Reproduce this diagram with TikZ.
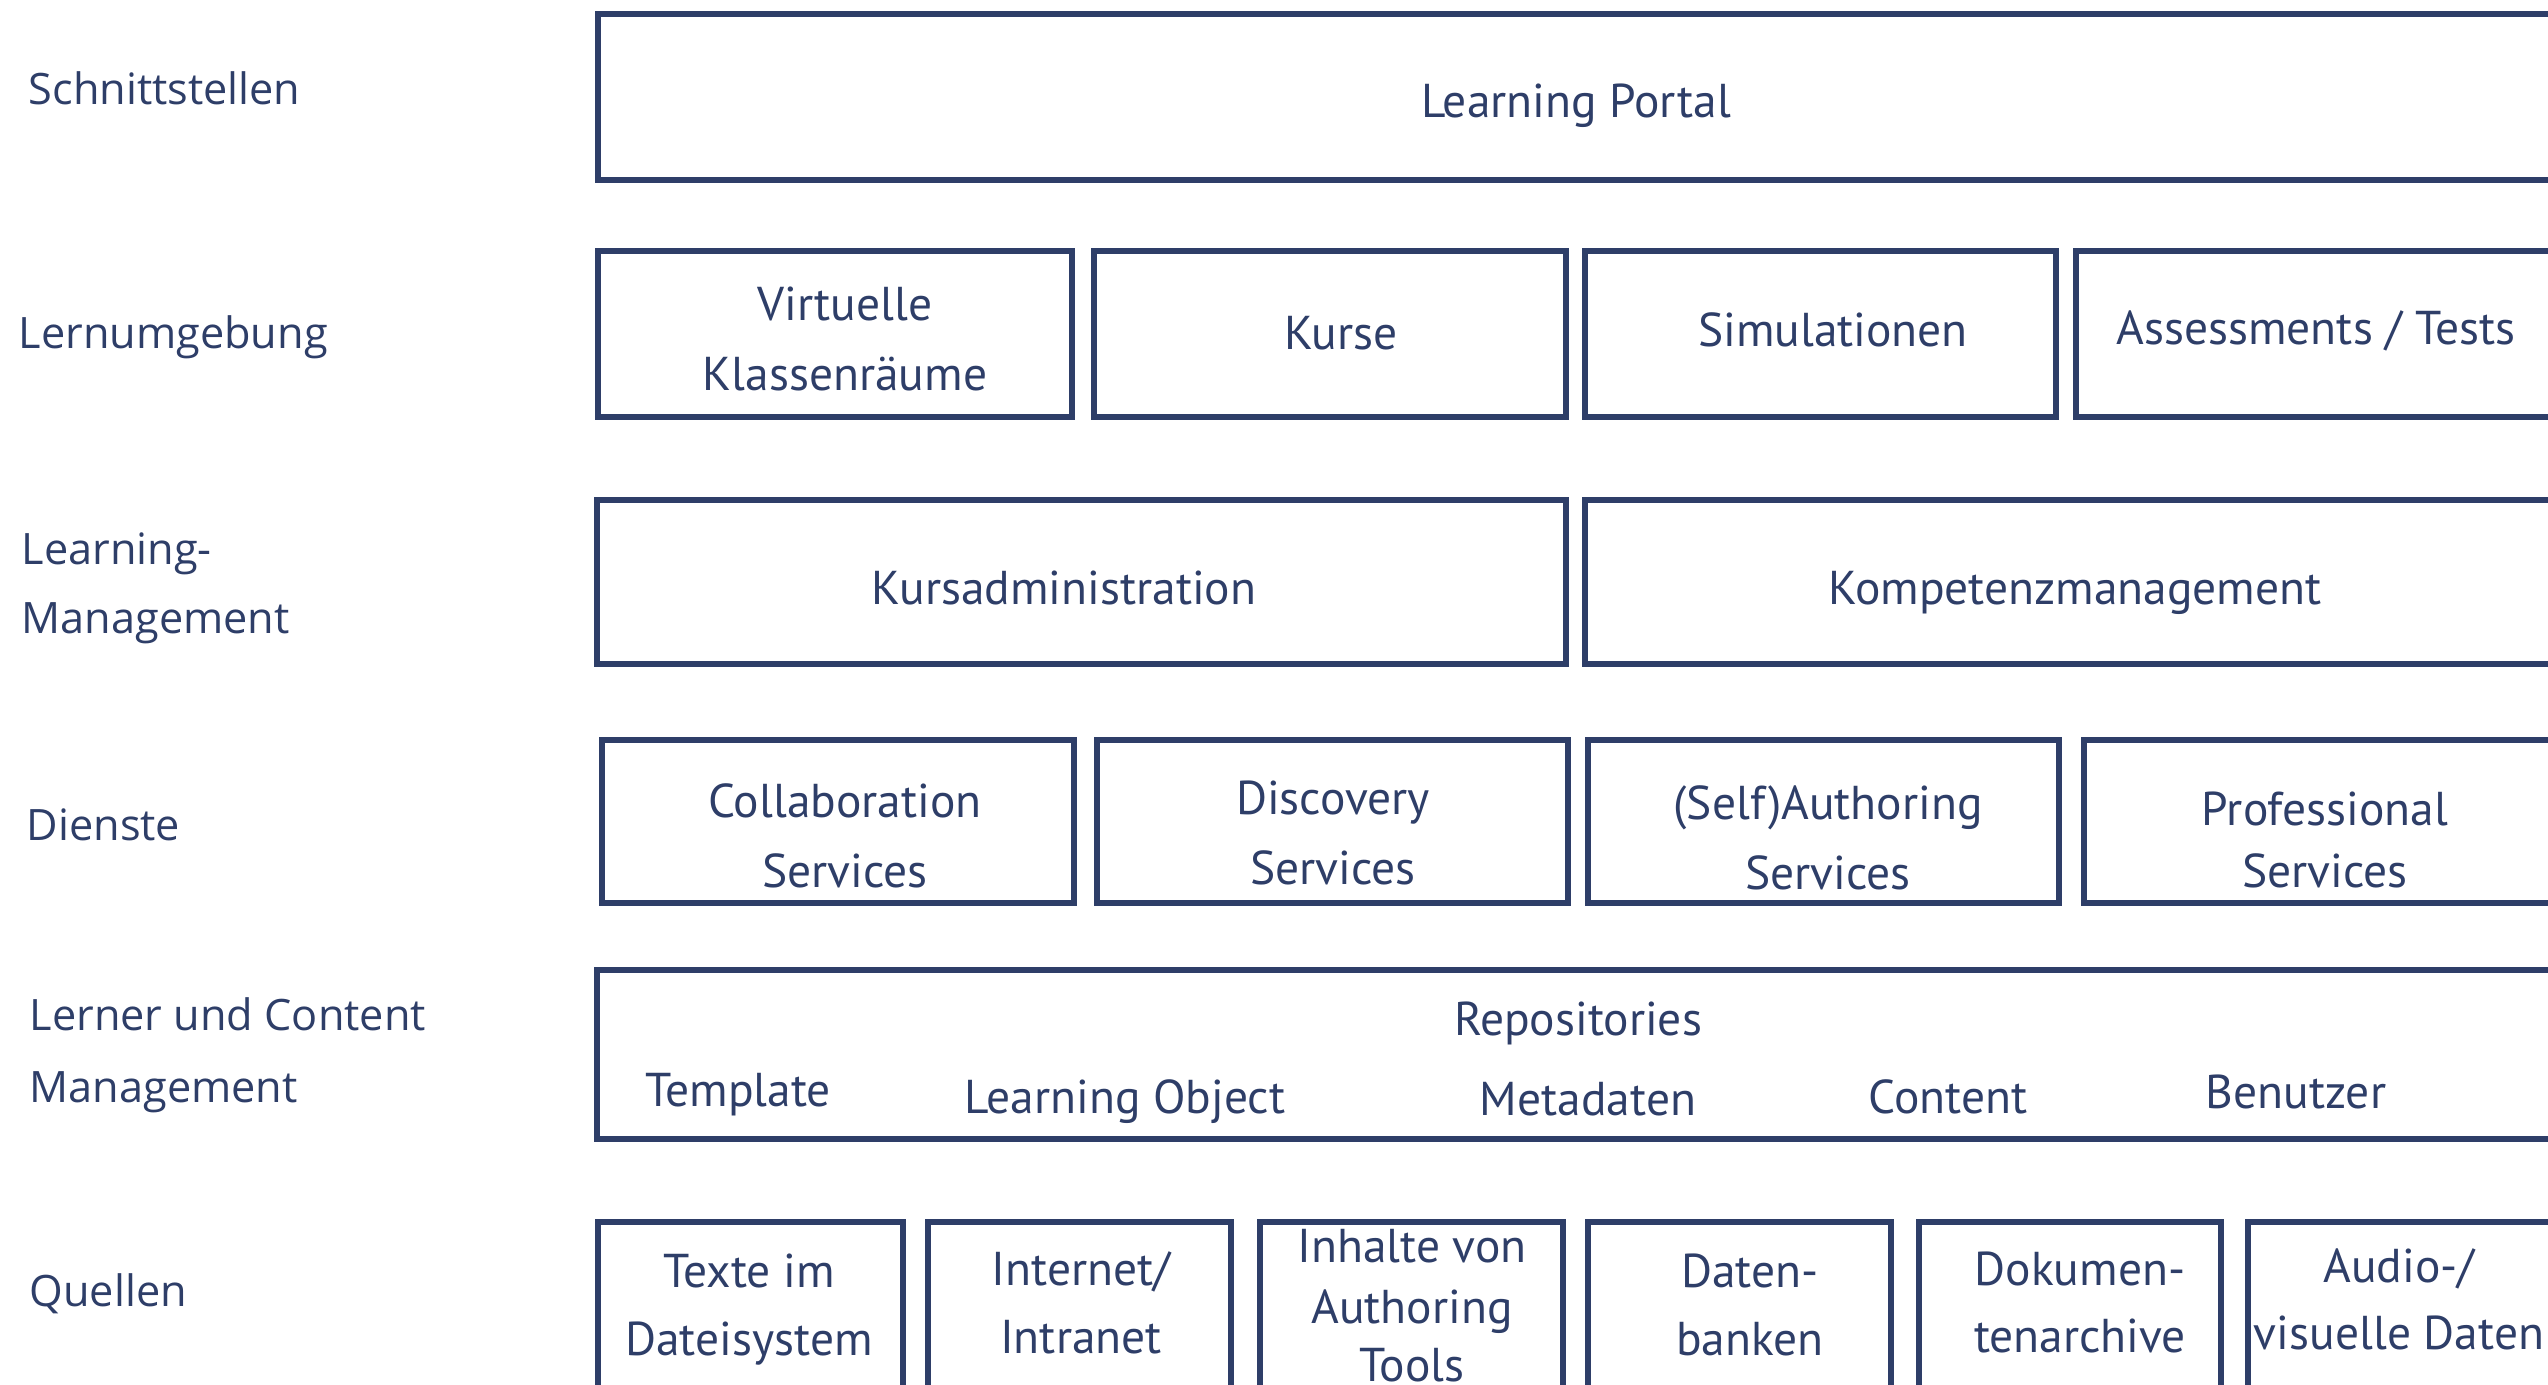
\documentclass[tikz,border=0pt]{standalone}
\usepackage{fontspec}
\setmainfont{PT Sans}
\newfontfamily\labelfont{Open Sans}
\usetikzlibrary{fit}
\definecolor{navy}{RGB}{46,62,104}
\begin{document}
\begin{tikzpicture}[x=0.01cm,y=-0.01cm,
  box/.style={draw=navy,line width=1.45pt,inner sep=0pt},
  txt/.style={text=navy,inner sep=0pt,anchor=mid,yshift=-0.08cm,font=\fontsize{13.5}{16}\selectfont},
  lbl/.style={text=navy,inner sep=0pt,anchor=mid west,yshift=-0.08cm,font=\labelfont\fontsize{12.3}{15}\selectfont}]
\useasboundingbox (0,0) rectangle (2548,1384);
\clip (0,0) rectangle (2548,1384);

% layer labels
\node[lbl] (l1) at (28,88) {Schnittstellen};
\node[lbl] (l2) at (18,332) {Lernumgebung};
\node[lbl] (l3a) at (21,548) {Learning-};
\node[lbl] (l3b) at (21,617) {Management};
\node[lbl] (l4) at (26,824) {Dienste};
\node[lbl] (l5a) at (29,1014) {Lerner und Content};
\node[lbl] (l5b) at (29,1086) {Management};
\node[lbl] (l6) at (29,1290) {Quellen};

% Schnittstellen
\node[box,fit={(598,14)(2620,180)}] (portal) {};
\node[txt] (portalt) at (1576,101) {Learning Portal};

% Lernumgebung
\node[box,fit={(598,251)(1072,417)}] (vk) {};
\node[box,fit={(1094,251)(1566,417)}] (kurse) {};
\node[box,fit={(1585,251)(2056,417)}] (sim) {};
\node[box,fit={(2076,251)(2620,417)}] (ass) {};
\node[txt] (vkt1) at (845,304) {Virtuelle};
\node[txt] (vkt2) at (845,374) {Klassenräume};
\node[txt] (kurset) at (1341,333) {Kurse};
\node[txt] (simt) at (1833,330) {Simulationen};
\node[txt] (asst) at (2316,328) {Assessments / Tests};

% Learning-Management
\node[box,fit={(597,500)(1566,664)}] (kadm) {};
\node[box,fit={(1585,500)(2620,664)}] (komp) {};
\node[txt] (kadmt) at (1064,588) {Kursadministration};
\node[txt] (kompt) at (2075,588) {Kompetenzmanagement};

% Dienste
\node[box,fit={(602,740)(1074,903)}] (coll) {};
\node[box,fit={(1097,740)(1568,903)}] (disc) {};
\node[box,fit={(1588,740)(2059,903)}] (auth) {};
\node[box,fit={(2084,740)(2620,903)}] (prof) {};
\node[txt] (collt1) at (845,801) {Collaboration};
\node[txt] (collt2) at (845,871) {Services};
\node[txt] (disct1) at (1333,798) {Discovery};
\node[txt] (disct2) at (1333,868) {Services};
\node[txt] (autht1) at (1828,803) {(Self)Authoring};
\node[txt] (autht2) at (1828,873) {Services};
\node[txt] (proft1) at (2325,809) {Professional};
\node[txt] (proft2) at (2325,871) {Services};

% Lerner und Content Management
\node[box,fit={(597,970)(2620,1139)}] (repo) {};
\node[txt] (repot) at (1578,1019) {Repositories};
\node[txt] (r1) at (738,1090) {Template};
\node[txt] (r2) at (1125,1097) {Learning Object};
\node[txt] (r3) at (1588,1099) {Metadaten};
\node[txt] (r4) at (1948,1097) {Content};
\node[txt] (r5) at (2296,1092) {Benutzer};

% Quellen
\node[box,fit={(598,1222)(903,1420)}] (texte) {};
\node[box,fit={(928,1222)(1231,1420)}] (inet) {};
\node[box,fit={(1260,1222)(1563,1420)}] (inh) {};
\node[box,fit={(1588,1222)(1891,1420)}] (dat) {};
\node[box,fit={(1919,1222)(2221,1420)}] (dok) {};
\node[box,fit={(2248,1222)(2620,1420)}] (av) {};
\node[txt] (textet1) at (749,1271) {Texte im};
\node[txt] (textet2) at (749,1339) {Dateisystem};
\node[txt] (inett1) at (1081,1269) {Internet/};
\node[txt] (inett2) at (1081,1337) {Intranet};
\node[txt] (inht1) at (1412,1246) {Inhalte von};
\node[txt] (inht2) at (1412,1307) {Authoring};
\node[txt] (inht3) at (1412,1365) {Tools};
\node[txt] (datt1) at (1750,1271) {Daten-};
\node[txt] (datt2) at (1750,1339) {banken};
\node[txt] (dokt1) at (2080,1269) {Dokumen-};
\node[txt] (dokt2) at (2080,1336) {tenarchive};
\node[txt] (avt1) at (2399,1266) {Audio-/};
\node[txt] (avt2) at (2399,1333) {visuelle Daten};
\end{tikzpicture}
\end{document}
